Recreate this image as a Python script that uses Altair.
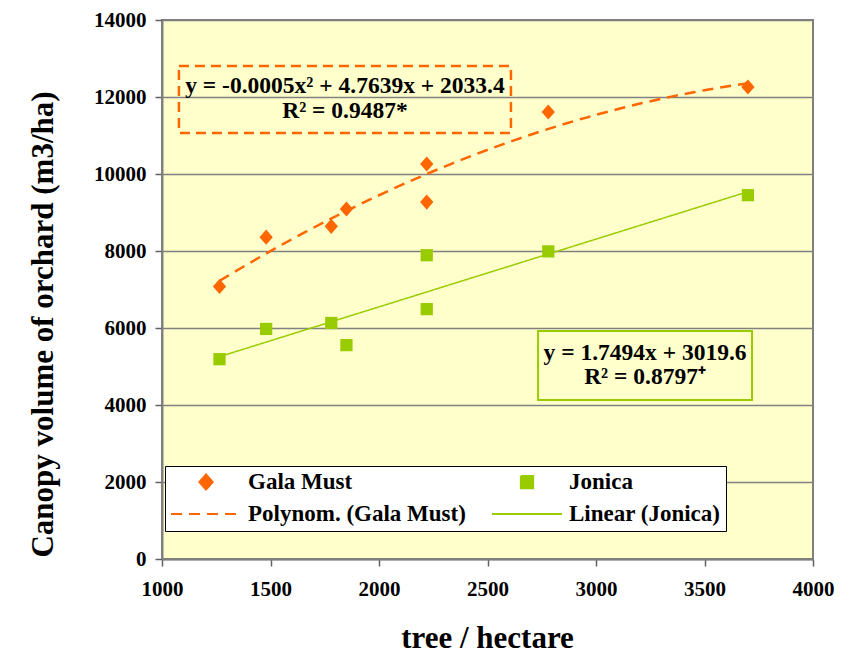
import altair as alt
import pandas as pd

# ---- data ----
density = [1265, 1480, 1780, 1850, 2220, 2220, 2780, 3700]
gala = [7080, 8360, 8640, 9090, 10260, 9270, 11610, 12260]
jonica = [5190, 5975, 6130, 5555, 7890, 6490, 7990, 9450]

series_names = ["Gala Must", "Jonica"]
fit_names = ["Polynom. (Gala Must)", "Linear (Jonica)"]
legend_order = ["Gala Must", "Jonica", "Polynom. (Gala Must)", "Linear (Jonica)"]

x_ticks = [1000, 1500, 2000, 2500, 3000, 3500, 4000]
y_ticks = [0, 2000, 4000, 6000, 8000, 10000, 12000, 14000]

eq_gala = ["y = -0.0005x² + 4.7639x + 2033.4", "R² = 0.9487*"]
eq_jonica = ["y = 1.7494x + 3019.6", "R² = 0.8797⁺"]

# annotation placement (data units)
gala_box = [1078, 2608, 11065, 12805]
jonica_box = [2733, 3719, 4130, 5922]
gala_text_x = 1843
gala_text_y = [12290, 11640]
jonica_text_x = 3226
jonica_text_y = [5350, 4720]

# ---- styles ----
ORANGE = "#FF6600"
GREEN = "#99CC00"
FONT = "Liberation Serif"
colors = [ORANGE, GREEN, ORANGE, GREEN]
# symbol paths in unit coordinates; all symbols drawn at the same symbol size
DIAMOND = "M0,-0.215L0.19,0L0,0.215L-0.19,0Z"
SQUARE = "M-0.175,-0.175H0.175V0.175H-0.175Z"
shapes = [DIAMOND, SQUARE, "stroke", "stroke"]
dashes = [[1, 0], [1, 0], [11, 7], [1, 0]]
SYM = 4900

rows = []
for xv, gv, jv in zip(density, gala, jonica):
    rows.append({"x": xv, "y": gv, "series": series_names[0]})
    rows.append({"x": xv, "y": jv, "series": series_names[1]})
df = pd.DataFrame(rows)

xscale = alt.Scale(domain=[1000, 4000], nice=False, zero=False)
yscale = alt.Scale(domain=[0, 14000], nice=False)
cscale = alt.Scale(domain=legend_order, range=colors)

lab = dict(labelFont=FONT, labelFontSize=21, labelFontWeight="bold", labelColor="black",
           labelFlush=False)
xaxis = alt.Axis(values=x_ticks, format="d", grid=False, title="tree / hectare",
                 titleX=325, titleY=88, titleBaseline="alphabetic", titleAlign="center",
                 titleFont=FONT, titleFontSize=31, labelPadding=12, **lab)
yaxis = alt.Axis(values=y_ticks, format="d", grid=True, title="Canopy volume of orchard (m3/ha)",
                 titleX=-110, titleY=304, titleBaseline="alphabetic", titleAlign="center",
                 titleAngle=270, titleFont=FONT, titleFontSize=31, labelPadding=9, **lab)

X = alt.X("x:Q", scale=xscale, axis=xaxis)
Y = alt.Y("y:Q", scale=yscale, axis=yaxis)

leg = alt.Legend(title=None, labelFont=FONT, labelFontSize=23, labelFontWeight="bold",
                 labelColor="black", direction="horizontal", columns=2)

points = alt.Chart(df).mark_point(filled=True, opacity=1, size=SYM).encode(
    x=X, y=Y,
    color=alt.Color("series:N", scale=cscale, legend=leg),
    shape=alt.Shape("series:N", scale=alt.Scale(domain=legend_order, range=shapes), legend=leg),
)

poly = alt.Chart(df).transform_filter(
    alt.datum.series == series_names[0]
).transform_regression(
    "x", "y", method="poly", order=2
).transform_calculate(fit="'" + fit_names[0] + "'")

lin = alt.Chart(df).transform_filter(
    alt.datum.series == series_names[1]
).transform_regression(
    "x", "y", method="linear"
).transform_calculate(fit="'" + fit_names[1] + "'")

dash_scale = alt.Scale(domain=legend_order, range=dashes)
poly_line = poly.mark_line(strokeWidth=2.5).encode(
    x=X, y=Y,
    color=alt.Color("fit:N", scale=cscale, legend=leg),
    strokeDash=alt.StrokeDash("fit:N", scale=dash_scale, legend=leg),
)
lin_line = lin.mark_line(strokeWidth=1.5).encode(
    x=X, y=Y,
    color=alt.Color("fit:N", scale=cscale, legend=leg),
    strokeDash=alt.StrokeDash("fit:N", scale=dash_scale, legend=leg),
)

boxes = pd.DataFrame([
    {"x": gala_box[0], "x2": gala_box[1], "y": gala_box[2], "y2": gala_box[3]},
])
boxes2 = pd.DataFrame([
    {"x": jonica_box[0], "x2": jonica_box[1], "y": jonica_box[2], "y2": jonica_box[3]},
])
gala_rect = alt.Chart(boxes).mark_rect(
    fill="transparent", stroke=ORANGE, strokeWidth=2.5, strokeDash=[10, 6]
).encode(x=alt.X("x:Q", scale=xscale), x2="x2:Q", y=alt.Y("y:Q", scale=yscale), y2="y2:Q")
jon_rect = alt.Chart(boxes2).mark_rect(
    fill="#FFFFCC", stroke=GREEN, strokeWidth=2
).encode(x=alt.X("x:Q", scale=xscale), x2="x2:Q", y=alt.Y("y:Q", scale=yscale), y2="y2:Q")

texts = pd.DataFrame([
    {"x": gala_text_x, "y": gala_text_y[0], "t": eq_gala[0]},
    {"x": gala_text_x, "y": gala_text_y[1], "t": eq_gala[1]},
    {"x": jonica_text_x, "y": jonica_text_y[0], "t": eq_jonica[0]},
    {"x": jonica_text_x, "y": jonica_text_y[1], "t": eq_jonica[1]},
])
eq_text = alt.Chart(texts).mark_text(
    font=FONT, fontSize=23.5, fontWeight="bold", color="black", align="center", baseline="middle"
).encode(x=alt.X("x:Q", scale=xscale), y=alt.Y("y:Q", scale=yscale), text="t:N")

chart = alt.layer(
    gala_rect, jon_rect, lin_line, poly_line, points, eq_text
).properties(
    width=651, height=539,
    autosize=alt.AutoSizeParams(type="none"),
    padding={"left": 154, "top": 12, "right": 38, "bottom": 97},
    background="white",
).configure(
    font=FONT,
).configure_view(
    stroke="#808080", strokeWidth=2, fill="#FFFFCC"
).configure_axis(
    labelFont=FONT, labelFontSize=21, labelFontWeight="bold", labelColor="black",
    titleFont=FONT, titleFontWeight="bold", titleColor="black",
    domainColor="#808080", domainWidth=2,
    tickColor="#606060", tickWidth=1.5, tickSize=7,
    gridColor="#808080", gridWidth=1.5, gridOpacity=1,
).configure_legend(
    orient="none", legendX=3, legendY=446, columns=2, direction="horizontal",
    fillColor="white", strokeColor="black", strokeWidth=1,
    padding=5, rowPadding=9, columnPadding=25, clipHeight=22,
    labelFont=FONT, labelFontSize=23, labelFontWeight="bold", labelColor="black",
    labelOffset=6, symbolOpacity=1, symbolStrokeWidth=2, symbolSize=SYM, labelLimit=400,
)

chart.save("out.html", embed_options={"renderer": "svg", "actions": False})
